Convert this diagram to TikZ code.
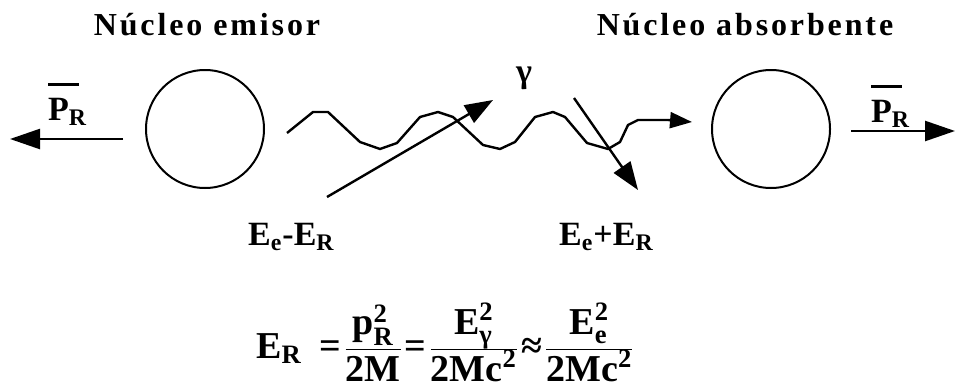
\documentclass[tikz,border=0pt]{standalone}
\usepackage{amsmath}
\usepackage{fontspec}
\setmainfont{Liberation Serif}
\newfontfamily\titlefont[LetterSpace=9]{Liberation Serif}
\usetikzlibrary{arrows.meta}

\newcommand{\momlabel}{\rlap{\rule[17pt]{15.5pt}{1.4pt}}P$_{\text{R}}$}

\begin{document}
\begin{tikzpicture}[
  x=0.5pt, y=-0.5pt, line width=1.2pt,
  nucleus/.style={draw, circle, minimum size=59pt, inner sep=0pt, line width=1pt},
  txt/.style={font=\fontsize{17}{19}\selectfont\bfseries, inner sep=0pt},
  title/.style={font=\fontsize{16}{18}\titlefont\bfseries, inner sep=0pt},
  eqn/.style={font=\fontsize{19}{22}\selectfont\bfseries, inner sep=0pt},
  push/.style={-{Triangle[length=15pt, width=10pt]}},
  ray/.style={-{Triangle[length=14pt, width=10pt]}},
  wave/.style={-{Triangle[length=11pt, width=8pt]}, line join=round}
]
\useasboundingbox (0,0) rectangle (956,391);

% nuclei
\node[nucleus] (emit) at (205,129) {};
\node[nucleus] (absorb) at (771,129) {};
\node[title, anchor=base] (temit) at (207,35) {Núcleo emisor};
\node[title, anchor=base] (tabsorb) at (745,35) {Núcleo absorbente};

% recoil momenta
\coordinate (pLtail) at (123,139);
\coordinate (pLhead) at (10,139);
\coordinate (pRtail) at (851,131);
\coordinate (pRhead) at (955,131);
\draw[push] (pLtail) -- (pLhead);
\draw[push] (pRtail) -- (pRhead);
\node[txt, anchor=base west] (pL) at (47,120) {\momlabel};
\node[txt, anchor=base west] (pR) at (870,122) {\momlabel};

% photon
\coordinate (wstart) at (287,133);
\coordinate (wend) at (692,122);
\draw[wave] (wstart) -- (313,112) -- (328,112) -- (360,142) -- (380,149)
  -- (397,143) -- (420,117) -- (438,112) -- (453,117) -- (483,145)
  -- (500,149) -- (515,142) -- (535,117) -- (553,112) -- (565,117)
  -- (587,143) -- (608,149) -- (620,142) -- (628,125) -- (638,120)
  -- (668,120) -- (wend);
\node[txt, anchor=base] (gam) at (524,82) {γ};

% emitted and absorbed energies
\coordinate (inA) at (327,197);
\coordinate (inB) at (493,100);
\coordinate (outA) at (574,98);
\coordinate (outB) at (638,190);
\draw[ray] (inA) -- (inB);
\draw[ray] (outA) -- (outB);
\node[txt, anchor=base west] (eminus) at (247,245) {E$_{\text{e}}$-E$_{\text{R}}$};
\node[txt, anchor=base west] (eplus) at (558,245) {E$_{\text{e}}$+E$_{\text{R}}$};

% recoil energy
\node[eqn, anchor=base west] (recoil) at (255,358)
  {$\thickmuskip=1mu
   \text{E}_{\text{R}}\hspace{8pt}\mathrel{\text{=}}
   \dfrac{\smash[b]{\text{p}_{\text{R}}^{\text{2}}}}{\smash[t]{\text{2M}}}\mathrel{\text{=}}
   \dfrac{\smash[b]{\text{E}_{\text{γ}}^{\text{2}}}}{\smash[t]{\text{2Mc}^{\text{2}}}}\mathrel{\text{≈}}
   \dfrac{\smash[b]{\text{E}_{\text{e}}^{\text{2}}}}{\smash[t]{\text{2Mc}^{\text{2}}}}$};
\end{tikzpicture}
\end{document}
